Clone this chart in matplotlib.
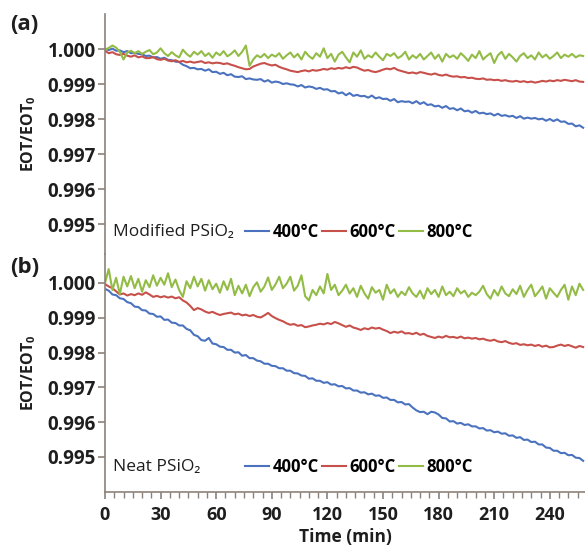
import numpy as np
import matplotlib
matplotlib.use('Agg')
import matplotlib.pyplot as plt
from matplotlib.ticker import MultipleLocator

plt.rcParams['font.family'] = ['Open Sans', 'DejaVu Sans']
plt.rcParams['mathtext.fontset'] = 'custom'
plt.rcParams['mathtext.rm'] = 'Open Sans'
plt.rcParams['mathtext.bf'] = 'Open Sans:bold'

# ---------------- data ----------------
STEP_MIN = 2                     # sampling interval of the lists below (min)
temps = ['400°C', '600°C', '800°C']
panel_titles = ['Modified PSiO₂', 'Neat PSiO₂']
y_ticks = [0.995, 0.996, 0.997, 0.998, 0.999, 1.000]
x_ticks = [0, 30, 60, 90, 120, 150, 180, 210, 240]

# EOT/EOT0 - 1, in units of 1e-5
mod_400 = [0, -3, 1, -5, -4, -9, -6, -12, -11, -14,
           -15, -20, -19, -24, -23, -28, -25, -31, -32, -36,
           -37, -45, -49, -55, -54, -58, -57, -62, -58, -66,
           -65, -71, -68, -75, -72, -79, -80, -78, -86, -84,
           -87, -88, -86, -93, -89, -96, -93, -95, -100, -98,
           -101, -102, -107, -103, -110, -107, -109, -114, -111, -116,
           -115, -121, -120, -127, -124, -132, -126, -134, -131, -135,
           -134, -139, -133, -141, -138, -143, -142, -148, -143, -152,
           -149, -151, -150, -155, -149, -157, -152, -160, -158, -164,
           -162, -168, -163, -171, -169, -175, -170, -178, -176, -182,
           -177, -184, -182, -186, -184, -190, -185, -191, -189, -193,
           -191, -197, -192, -199, -196, -199, -197, -201, -199, -205,
           -200, -206, -201, -208, -207, -214, -213, -221, -218, -225]
mod_600 = [-5, -12, -9, -15, -17, -14, -19, -22, -18, -24,
           -21, -26, -26, -23, -29, -31, -28, -33, -35, -32,
           -37, -34, -38, -36, -39, -37, -35, -40, -38, -41,
           -39, -40, -43, -41, -45, -48, -52, -55, -58, -57,
           -50, -46, -42, -40, -44, -47, -45, -51, -55, -58,
           -62, -64, -66, -63, -61, -64, -60, -62, -60, -57,
           -59, -55, -57, -54, -56, -52, -55, -51, -53, -58,
           -62, -60, -64, -66, -63, -59, -56, -58, -54, -60,
           -63, -66, -69, -67, -70, -66, -68, -71, -73, -70,
           -74, -76, -73, -77, -79, -78, -81, -80, -83, -82,
           -85, -86, -84, -88, -87, -89, -88, -91, -89, -92,
           -93, -91, -94, -92, -95, -93, -96, -94, -91, -93,
           -90, -92, -89, -91, -88, -90, -92, -89, -93, -94]
mod_800 = [-2, 3, 10, 4, -8, -30, -10, -5, -12, -6,
           -14, -8, -3, -15, -10, 2, -12, -20, -9, -18,
           -24, -2, -14, -22, -8, -16, -6, -20, -12, -25,
           -10, -18, -6, -21, -14, -4, -20, -8, 10, -48,
           -30, -18, -24, -14, -26, -16, -22, -12, -28, -18,
           -10, -24, -14, -30, -8, -20, -28, -12, -22, 2,
           -26, -14, -36, -16, -8, -24, -38, -10, -22, -4,
           -28, -18, -24, -10, -22, -32, -14, -20, -12, -26,
           -20, -8, -30, -18, -26, -14, -30, -20, -10, -28,
           -16, -36, -14, -24, -18, -28, -12, -22, -34, -16,
           -26, -6, -30, -20, -12, -40, -18, -8, -28, -14,
           -24, -36, -20, -12, -26, -18, -30, -10, -24, -16,
           -28, -20, -10, -26, -16, -22, -14, -24, -18, -20]

neat_400 = [-17, -22, -33, -35, -44, -46, -55, -58, -68, -69,
            -78, -79, -88, -89, -97, -96, -106, -105, -114, -115,
            -122, -122, -132, -136, -149, -153, -164, -166, -158, -174,
            -176, -183, -184, -192, -192, -200, -199, -209, -207, -216,
            -216, -223, -225, -232, -232, -238, -239, -245, -245, -252,
            -252, -259, -260, -266, -267, -275, -274, -281, -281, -287,
            -285, -292, -291, -297, -296, -303, -302, -309, -309, -315,
            -314, -320, -318, -324, -323, -330, -329, -336, -336, -343,
            -342, -349, -348, -358, -366, -371, -370, -377, -370, -372,
            -378, -388, -389, -398, -397, -404, -402, -408, -406, -412,
            -412, -418, -417, -424, -423, -429, -427, -433, -432, -439,
            -438, -445, -443, -451, -450, -457, -456, -464, -464, -473,
            -474, -482, -482, -489, -488, -495, -494, -502, -503, -511]
neat_600 = [-3, -10, -15, -24, -33, -30, -36, -32, -35, -30,
            -34, -27, -33, -40, -37, -41, -38, -42, -39, -44,
            -41, -50, -56, -66, -78, -72, -76, -82, -86, -83,
            -88, -92, -89, -87, -85, -90, -88, -93, -91, -95,
            -92, -97, -99, -93, -86, -95, -101, -106, -110, -116,
            -120, -118, -123, -121, -127, -125, -122, -120, -117, -119,
            -115, -118, -112, -116, -121, -126, -122, -128, -131, -135,
            -130, -133, -128, -131, -129, -134, -138, -144, -140, -143,
            -139, -145, -144, -147, -143, -149, -146, -152, -155, -158,
            -154, -157, -152, -156, -155, -158, -154, -159, -157, -160,
            -158, -162, -160, -164, -166, -163, -168, -170, -167, -172,
            -175, -173, -178, -176, -179, -177, -181, -178, -183, -180,
            -185, -184, -180, -177, -181, -178, -182, -186, -181, -184]
neat_800 = [0, 40, -20, 15, -32, 18, -10, 20, -15, 12,
            -25, 8, -12, 22, -8, 15, -5, 28, -12, 10,
            -20, -40, 5, -15, 18, -10, 12, -22, 8, -18,
            -2, -28, 5, -20, 12, -35, -8, -30, -5, -38,
            -12, 2, -25, -10, 16, -20, -4, 18, -15, -2,
            18, -22, -8, 22, -38, -50, -20, -35, -10, -30,
            26, -20, -5, -35, -22, -5, -30, -15, -40, -8,
            -30, -45, -12, -28, -20, -48, -5, -30, -18, -40,
            -25, -35, -12, -30, -40, -22, -45, -15, -32, -20,
            -40, -10, -35, -25, -38, -15, -30, -22, -40, -28,
            -35, -25, -8, -32, -45, -20, -36, -10, -30, -38,
            -18, -32, -8, -40, -20, -5, -38, -25, -10, -45,
            -15, -28, -40, -20, -5, -48, -10, -35, -2, -20]

colors = ['#4A72BE', '#C8504A', '#92BC46']
spine_col = '#8C8279'
txt_col = '#1E1E1E'

W, H = 585, 547
fig = plt.figure(figsize=(W / 100, H / 100), dpi=100)
L = 105 / W
axA = fig.add_axes([L, 1 - 254 / H, 1 - L, (254 - 14) / H])
axB = fig.add_axes([L, 1 - 492 / H, 1 - L, (492 - 254) / H], sharex=axA)

panels = [(axA, [mod_400, mod_600, mod_800], (0.994143, 1.001), '(a)', 25, 232),
          (axB, [neat_400, neat_600, neat_800], (0.993994, 1.000833), '(b)', 268, 467)]

for i, (ax, series, ylim, tag, tag_y, leg_y) in enumerate(panels):
    lines = []
    for vals, c in zip(series, colors):
        t = np.arange(len(vals)) * STEP_MIN
        y = 1 + np.array(vals) * 1e-5
        ln, = ax.plot(t, y, color=c, lw=1.5)
        lines.append(ln)
    ax.set_xlim(0, 259)
    ax.set_ylim(*ylim)
    for s in ['top', 'right']:
        ax.spines[s].set_visible(False)
    for s in ['left', 'bottom']:
        ax.spines[s].set_color(spine_col)
        ax.spines[s].set_linewidth(1.2)
    ax.set_yticks(y_ticks)
    ax.set_yticklabels([f'{v:.3f}' for v in y_ticks], fontweight='bold',
                       fontsize=13.5, color=txt_col)
    ax.tick_params(axis='y', direction='out', length=5, width=1.2,
                   color=spine_col, pad=1.5)
    ax.set_ylabel(r'EOT/EOT$_\mathbf{0}$', fontweight='bold', fontsize=11.5,
                  color=txt_col)
    ax.yaxis.set_label_coords(-0.14, 0.5)
    ax.patch.set_alpha(0)

    fig.text(113 / W, 1 - leg_y / H, panel_titles[i],
             ha='left', va='center', fontsize=12.5, color=txt_col)
    ax.legend(lines, temps, ncol=3, loc='center left',
              bbox_to_anchor=(245 / W, 1 - leg_y / H),
              bbox_transform=fig.transFigure, frameon=False,
              handlelength=1.45, handletextpad=0.2, columnspacing=0.2,
              borderpad=0, borderaxespad=0,
              prop={'weight': 'bold', 'size': 12})
    fig.text(10 / W, 1 - tag_y / H, tag, ha='left', va='center',
             fontsize=16, fontweight='bold', color=txt_col)

axA.spines['bottom'].set_visible(False)
axA.tick_params(axis='x', which='both', bottom=False, labelbottom=False)

axB.set_xticks(x_ticks)
axB.set_xticklabels([str(v) for v in x_ticks], fontweight='bold', fontsize=13,
                    color=txt_col)
axB.xaxis.set_minor_locator(MultipleLocator(5))
axB.tick_params(axis='x', which='major', direction='out', length=5, width=1.2,
                color=spine_col, pad=5)
axB.tick_params(axis='x', which='minor', direction='out', length=4, width=1.0,
                color=spine_col)
axB.set_xlabel('Time (min)', fontweight='bold', fontsize=12.5, color=txt_col,
               labelpad=3)

fig.savefig('out.png', dpi=100)
